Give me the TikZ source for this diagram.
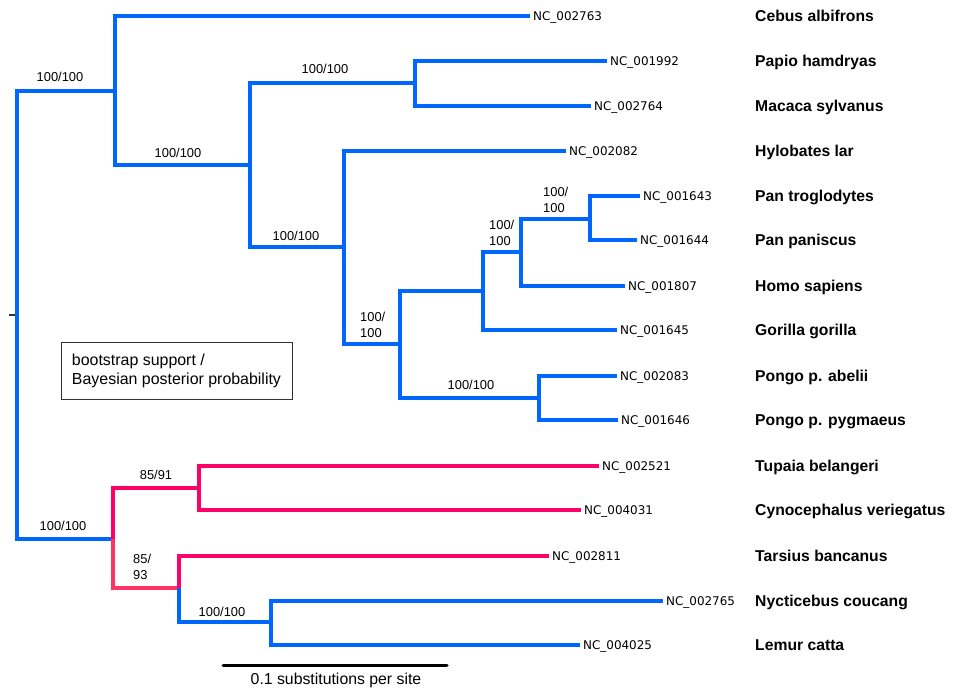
\documentclass[tikz,border=0pt]{standalone}
\usepackage{fontspec}
\setsansfont{Liberation Sans}
\newfontfamily\accfont{DejaVu Sans}
\usepackage{tikz}
\usetikzlibrary{positioning}
\definecolor{treeblue}{RGB}{0,102,255}
\definecolor{treepink}{RGB}{255,0,102}
\definecolor{treerose}{RGB}{255,51,102}

\begin{document}
\begin{tikzpicture}[x=0.03cm, y=-0.03cm,
    branch/.style={line width=0.12cm, draw=treeblue},
    pinkbranch/.style={branch, draw=treepink},
    rosebranch/.style={branch, draw=treerose},
    acc/.style={anchor=west, inner xsep=2.5pt, inner ysep=0pt,
        text height=7.3pt, text depth=0pt,
        font=\accfont\fontsize{10.2}{12}\selectfont},
    taxon/.style={anchor=west, inner sep=0pt, text height=9.5pt, text depth=0pt,
        font=\sffamily\bfseries\fontsize{13.4}{16}\selectfont},
    supp/.style={inner sep=0pt, text height=7.9pt, text depth=0pt,
        font=\sffamily\fontsize{11}{13.2}\selectfont},
    suppii/.style={anchor=base west, inner sep=0pt, align=left,
        font=\sffamily\fontsize{11}{13.6}\selectfont},
    note/.style={draw=black!80, line width=0.8pt, inner sep=0pt,
        minimum width=6.93cm, minimum height=1.71cm, align=left,
        font=\sffamily\fontsize{13.6}{16.2}\selectfont},
    scaletext/.style={inner sep=0pt, text height=9.7pt, text depth=0pt,
        font=\sffamily\fontsize{13.5}{16}\selectfont}]
\useasboundingbox (0,0) rectangle (953,690);

% internal nodes
\coordinate (root) at (17,315);
\coordinate (tick) at (9,315);
\coordinate (n115) at (115,91);
\coordinate (n250) at (250,165);
\coordinate (n415) at (415,83);
\coordinate (n344) at (344,247);
\coordinate (n400) at (400,344);
\coordinate (n483) at (483,291);
\coordinate (n521) at (521,252);
\coordinate (n590) at (590,219);
\coordinate (n539) at (539,398);
\coordinate (n113) at (113,539);
\coordinate (n199) at (199,488);
\coordinate (n179) at (179,588);
\coordinate (n271) at (271,622);
\coordinate (col) at (755,0);

% tips
\node[acc] (cebus)    at (530,16)  {NC\_002763};
\node[acc] (papio)    at (607,61)  {NC\_001992};
\node[acc] (macaca)   at (591,106) {NC\_002764};
\node[acc] (hylo)     at (566,151) {NC\_002082};
\node[acc] (pantro)   at (640,196) {NC\_001643};
\node[acc] (panpan)   at (637,240) {NC\_001644};
\node[acc] (homo)     at (625,286) {NC\_001807};
\node[acc] (gorilla)  at (617,330) {NC\_001645};
\node[acc] (abelii)   at (617,376) {NC\_002083};
\node[acc] (pygmaeus) at (618,420) {NC\_001646};
\node[acc] (tupaia)   at (599,466) {NC\_002521};
\node[acc] (cyno)     at (581,510) {NC\_004031};
\node[acc] (tarsius)  at (549,556) {NC\_002811};
\node[acc] (nycti)    at (663,601) {NC\_002765};
\node[acc] (lemur)    at (580,645) {NC\_004025};

\node[taxon] (cebusname)    at (cebus -| col)    {Cebus albifrons};
\node[taxon] (papioname)    at (papio -| col)    {Papio hamdryas};
\node[taxon] (macacaname)   at (macaca -| col)   {Macaca sylvanus};
\node[taxon] (hyloname)     at (hylo -| col)     {Hylobates lar};
\node[taxon] (pantroname)   at (pantro -| col)   {Pan troglodytes};
\node[taxon] (panpanname)   at (panpan -| col)   {Pan paniscus};
\node[taxon] (homoname)     at (homo -| col)     {Homo sapiens};
\node[taxon] (gorillaname)  at (gorilla -| col)  {Gorilla gorilla};
\node[taxon] (abeliiname)   at (abelii -| col)   {Pongo p. abelii};
\node[taxon] (pygmaeusname) at (pygmaeus -| col) {Pongo p. pygmaeus};
\node[taxon] (tupaianame)   at (tupaia -| col)   {Tupaia belangeri};
\node[taxon] (cynoname)     at (cyno -| col)     {Cynocephalus veriegatus};
\node[taxon] (tarsiusname)  at (tarsius -| col)  {Tarsius bancanus};
\node[taxon] (nyctiname)    at (nycti -| col)    {Nycticebus coucang};
\node[taxon] (lemurname)    at (lemur -| col)    {Lemur catta};

% branches
\draw[black!80, line width=0.06cm] (tick) -- (root);
\draw[branch] (root) |- (n115);
\draw[branch] (root) |- (n113);
\draw[branch] (n115) |- (cebus.west);
\draw[branch] (n115) |- (n250);
\draw[branch] (n250) |- (n415);
\draw[branch] (n415) |- (papio.west);
\draw[branch] (n415) |- (macaca.west);
\draw[branch] (n250) |- (n344);
\draw[branch] (n344) |- (hylo.west);
\draw[branch] (n344) |- (n400);
\draw[branch] (n400) |- (n483);
\draw[branch] (n483) |- (n521);
\draw[branch] (n521) |- (n590);
\draw[branch] (n590) |- (pantro.west);
\draw[branch] (n590) |- (panpan.west);
\draw[branch] (n521) |- (homo.west);
\draw[branch] (n483) |- (gorilla.west);
\draw[branch] (n400) |- (n539);
\draw[branch] (n539) |- (abelii.west);
\draw[branch] (n539) |- (pygmaeus.west);
\draw[pinkbranch] (n113) |- (n199);
\draw[pinkbranch] (n199) |- (tupaia.west);
\draw[pinkbranch] (n199) |- (cyno.west);
\draw[rosebranch] (n113) |- (n179);
\draw[pinkbranch] (n179) |- (tarsius.west);
\draw[branch] (n179) |- (n271);
\draw[branch] (n271) |- (nycti.west);
\draw[branch] (n271) |- (lemur.west);

% support values
\node[supp] (s1)  at (60,77)   {100/100};
\node[supp] (s2)  at (178,153) {100/100};
\node[supp] (s3)  at (325,69)  {100/100};
\node[supp] (s4)  at (296,236) {100/100};
\node[suppii] (s5) at (360,337.5) {100/\\100};
\node[supp] (s6)  at (471,385) {100/100};
\node[suppii] (s7) at (489,245.5) {100/\\100};
\node[suppii] (s8) at (543,212.5) {100/\\100};
\node[supp] (s9)  at (63,526)  {100/100};
\node[supp] (s10) at (156,475) {85/91};
\node[suppii] (s11) at (133,579.5) {85/\\93};
\node[supp] (s12) at (222,612) {100/100};

% legend and scale
\node[note] (legend) at (176.5,370.5) {bootstrap support /\\Bayesian posterior probability};
\coordinate (barl) at (223,665);
\coordinate (barr) at (447,665);
\draw[line width=0.09cm, line cap=round] (barl) -- (barr);
\node[scaletext] (scale) at (336,679) {0.1 substitutions per site};
\end{tikzpicture}
\end{document}
